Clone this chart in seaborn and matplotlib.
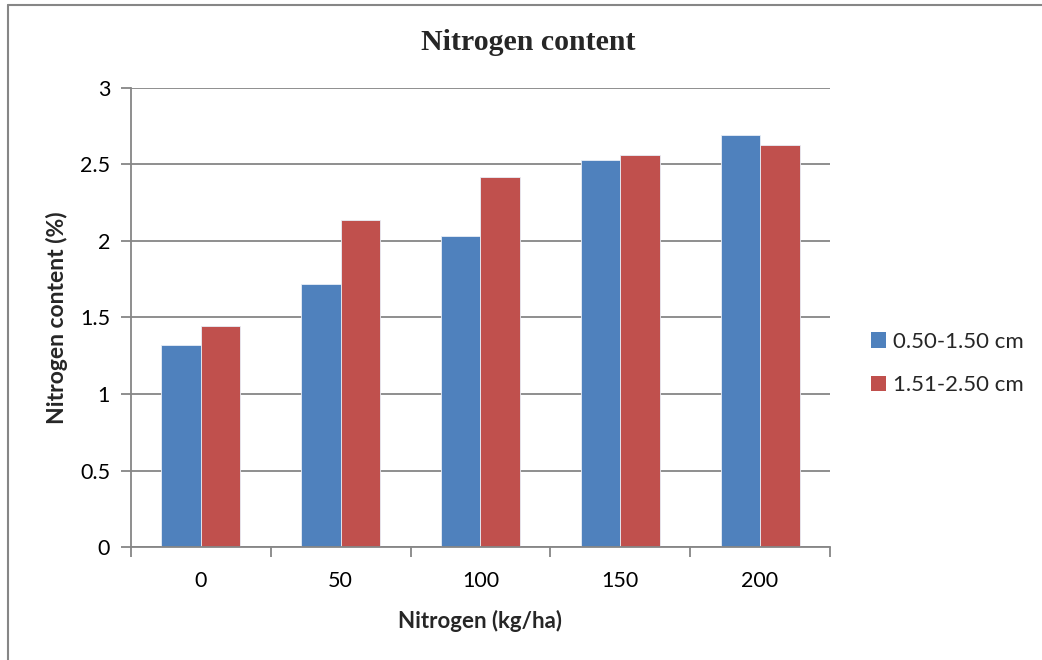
import matplotlib
matplotlib.use("Agg")
import matplotlib.pyplot as plt
import seaborn as sns
import pandas as pd
from matplotlib.lines import Line2D
from matplotlib.ticker import FixedLocator

categories = ["0", "50", "100", "150", "200"]
series_names = ["0.50-1.50 cm", "1.51-2.50 cm"]
values_small = [1.32, 1.72, 2.03, 2.53, 2.69]
values_large = [1.445, 2.14, 2.415, 2.565, 2.625]
y_ticks = [0, 0.5, 1, 1.5, 2, 2.5, 3]
y_tick_labels = ["0", "0.5", "1", "1.5", "2", "2.5", "3"]
colors = ["#4F81BD", "#C0504D"]

df = pd.DataFrame({
    "Nitrogen": categories * 2,
    "value": values_small + values_large,
    "series": [series_names[0]] * len(categories) + [series_names[1]] * len(categories),
})

sns.set_theme(style="white")
plt.rcParams["font.family"] = ["Lato", "DejaVu Sans"]

fig = plt.figure(figsize=(10.42, 6.6), dpi=100)
ax = fig.add_axes([0.1257, 0.1712, 0.6708, 0.6955])

sns.barplot(data=df, x="Nitrogen", y="value", hue="series", order=categories,
            hue_order=series_names, palette=colors, width=0.565, gap=0,
            edgecolor="#e8eef7", linewidth=0.6, saturation=1, ax=ax)

grid_c = "#868686"
ax.set_ylim(0, 3)
ax.set_xlim(-0.5, 4.5)
ax.set_yticks(y_ticks, y_tick_labels)
ax.grid(axis="y", color=grid_c, linewidth=1.3)
ax.set_axisbelow(True)
for s in ["top", "right"]:
    ax.spines[s].set_visible(False)
for s in ["left", "bottom"]:
    ax.spines[s].set_color(grid_c)
    ax.spines[s].set_linewidth(1.3)

ax.xaxis.set_minor_locator(FixedLocator([-0.5, 0.5, 1.5, 2.5, 3.5, 4.5]))
ax.tick_params(axis="x", which="major", length=0, labelsize=15.5, pad=17, colors="black")
ax.tick_params(axis="x", which="minor", length=7, width=1.3, color=grid_c, direction="out", bottom=True)
ax.tick_params(axis="y", which="major", length=7, width=1.3, color=grid_c, direction="out", left=True,
               labelsize=15.5, pad=8, labelcolor="black")

ax.set_xlabel("Nitrogen (kg/ha)", fontsize=16, fontweight="bold", labelpad=14)
ax.set_ylabel("Nitrogen content (%)", fontsize=16.5, fontweight="bold", labelpad=9)

fig.text(0.507, 0.935, "Nitrogen content", ha="center", va="center",
         fontsize=21.5, fontweight="bold", family=["Liberation Serif", "DejaVu Serif"])

leg = ax.legend(loc="center left", bbox_to_anchor=(1.03, 0.40), frameon=False,
                fontsize=16, handlelength=0.7, handleheight=0.7, handletextpad=0.3,
                labelspacing=1.05)
for h in leg.legend_handles:
    h.set_edgecolor("none")

# chart-area frame: only top and left edges are visible in the reference
fig.add_artist(Line2D([0.0077, 1.0], [0.9924, 0.9924], transform=fig.transFigure,
                      color=grid_c, linewidth=1.5))
fig.add_artist(Line2D([0.0077, 0.0077], [0.0, 0.9924], transform=fig.transFigure,
                      color=grid_c, linewidth=1.5))

fig.savefig("out.png", dpi=100)
